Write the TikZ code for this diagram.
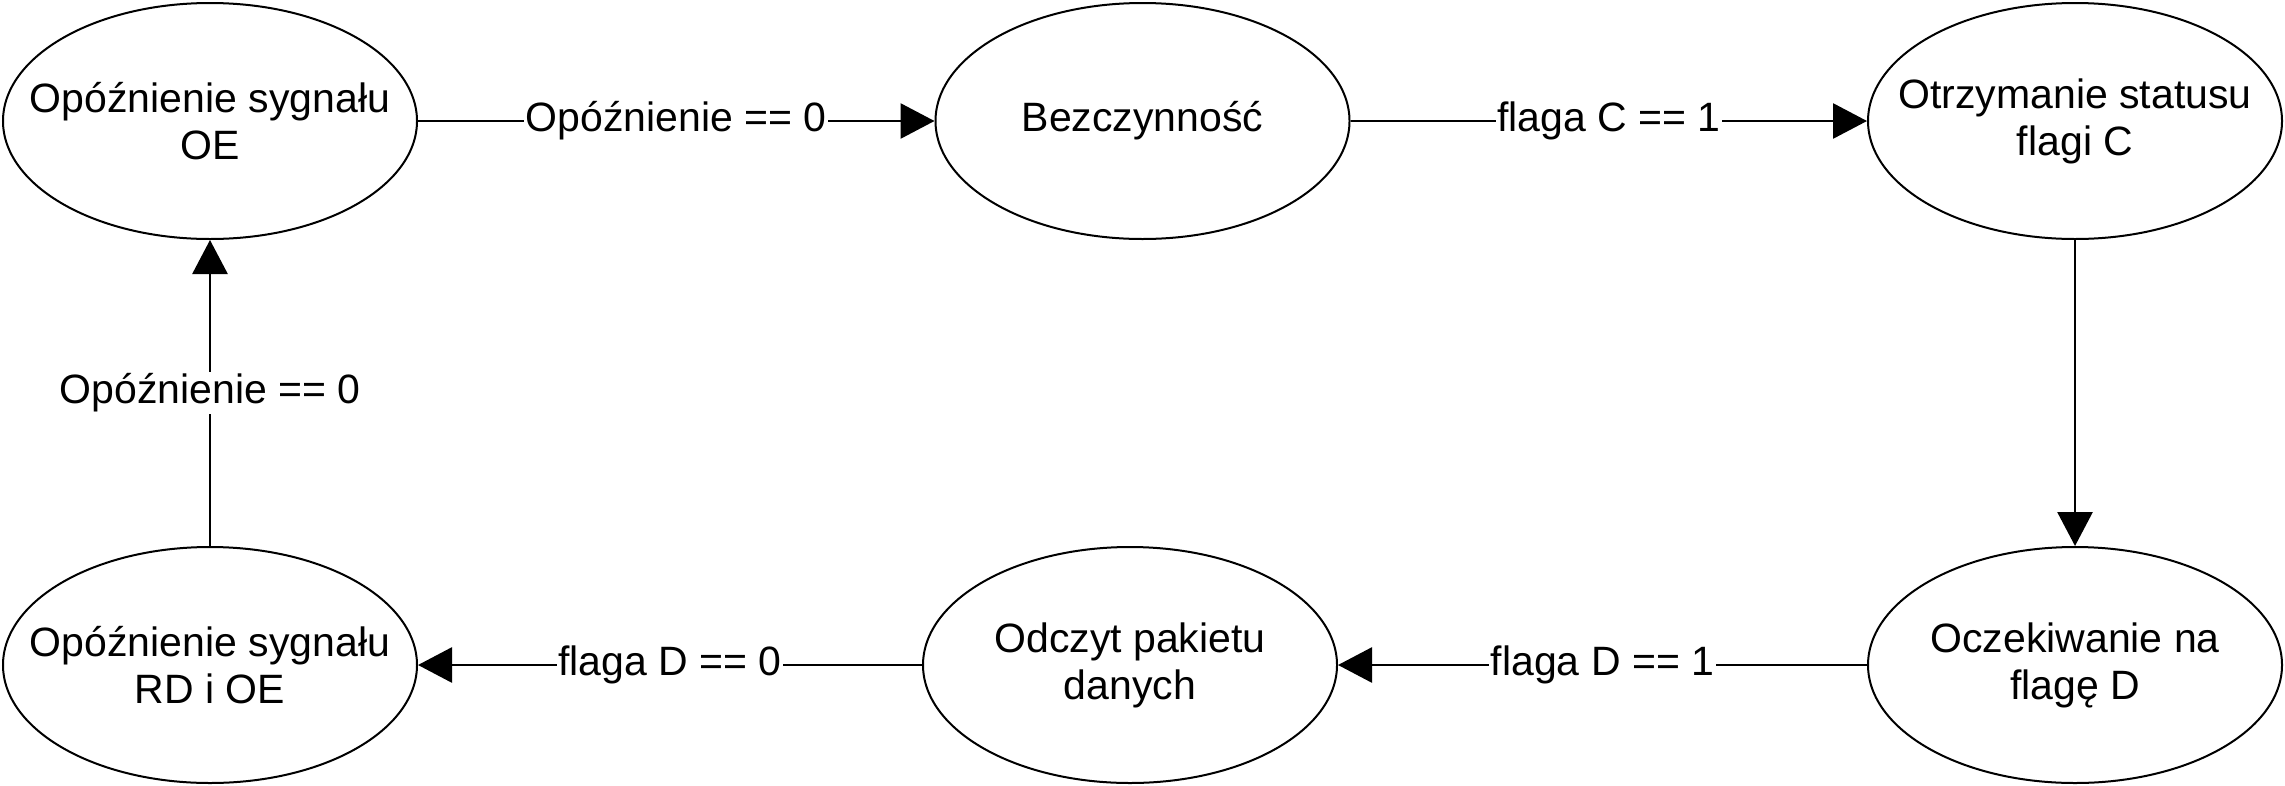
\documentclass[tikz,border=0pt]{standalone}
\usepackage{fontspec}
\setmainfont{Liberation Sans}
\usetikzlibrary{shapes.geometric,arrows.meta}
\begin{document}
\begin{tikzpicture}[x=1pt,y=-1pt,
  txt/.style={font=\fontsize{41}{47}\selectfont},
  state/.style={ellipse,draw,line width=2pt,minimum width=414pt,minimum height=236pt,
    inner sep=0pt,label={[txt,align=center]center:#1}},
  conn/.style={line width=2.8pt,-{Triangle[length=34pt,width=35pt]}},
  lbl/.style={txt,fill=white,inner sep=1.5pt}]
\useasboundingbox (0,0) rectangle (2285,785);
\node[state={Opóźnienie sygnału\\OE}] (a) at (210,121) {};
\node[state={Bezczynność}] (b) at (1142.5,121) {};
\node[state={Otrzymanie statusu\\flagi C}] (c) at (2075,121) {};
\node[state={Oczekiwanie na\\flagę D}] (d) at (2075,665) {};
\node[state={Odczyt pakietu\\danych}] (e) at (1130,665) {};
\node[state={Opóźnienie sygnału\\RD i OE}] (f) at (210,665) {};
\draw[conn] (a) -- node[lbl]{Opóźnienie == 0} (b);
\draw[conn] (b) -- node[lbl]{flaga C == 1} (c);
\draw[conn] (c) -- (d);
\draw[conn] (d) -- node[lbl]{flaga D == 1} (e);
\draw[conn] (e) -- node[lbl]{flaga D == 0} (f);
\draw[conn] (f) -- node[lbl]{Opóźnienie == 0} (a);
\end{tikzpicture}
\end{document}
